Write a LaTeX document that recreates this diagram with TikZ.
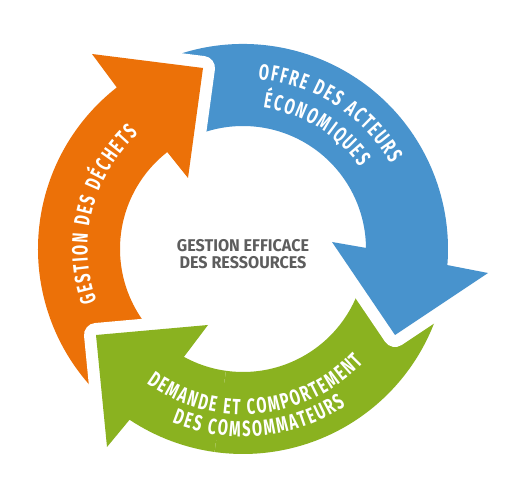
\documentclass[tikz,border=0pt]{standalone}
\usepackage{fontspec}
\usepackage{tikz}
\usetikzlibrary{decorations.text}
\newfontfamily\bandfamily{Fira Sans}[FakeStretch=0.67]
\newfontfamily\corefamily{Fira Sans}[FakeStretch=0.95]
\definecolor{orangeband}{HTML}{EC7108}
\definecolor{blueband}{HTML}{4893CD}
\definecolor{greenband}{HTML}{8AB220}
\definecolor{coregray}{HTML}{5D5D5D}
\newcommand{\bandfont}{\bandfamily\bfseries\fontsize{22bp}{22bp}\selectfont}
\newcommand{\greenarrow}{(-12:205) arc[start angle=-12,end angle=-123.6,radius=205] -- (-136,-198) -- (-147,-86) -- (-35,-76)
  -- (-118.7:123) arc[start angle=-118.7,end angle=-12,radius=123] -- cycle}
\tikzset{
  band/.style     ={preaction={draw=white,line width=24bp,line join=round}},
  bandlabel/.style={decorate,decoration={text effects along path,text={#1},text align=center,
    text effects/.cd,text along path,characters={text=white,font=\bandfont,inner xsep=0.9bp},
    character widths={font=\bandfont,inner xsep=0.9bp}}},
  core/.style     ={align=center,text=coregray,font=\corefamily\bfseries\fontsize{17bp}{17bp}\selectfont},
}
\begin{document}
\begin{tikzpicture}[x=1bp,y=1bp]
  \useasboundingbox (0,0) rectangle (512,486);
  \begin{scope}[shift={(243,237)}]
    \fill[greenband,band] \greenarrow;
    \fill[blueband,band] (115:205) arc[start angle=115,end angle=-4.5,radius=205] -- (245,-24) -- (152,-86) -- (89,7)
      -- (0.5:123) arc[start angle=0.5,end angle=115,radius=123] -- cycle;
    \fill[orangeband,band] (226:205) arc[start angle=226,end angle=128,radius=205] -- (-151,195) -- (-40,181) -- (-55,71)
      -- (128:123) arc[start angle=128,end angle=226,radius=123] -- cycle;
    \begin{scope}
      \clip (0,0) -- (190:320) -- (262:320) -- cycle;
      \fill[greenband,band] \greenarrow;
    \end{scope}
    \path[bandlabel={OFFRE DES ACTEURS}] (100:170.5) arc[start angle=100,end angle=15,radius=170.5];
    \path[bandlabel={ÉCONOMIQUES}] (105:142.5) arc[start angle=105,end angle=12,radius=142.5];
    \path[bandlabel={DEMANDE ET COMPORTEMENT}] (200:165.5) arc[start angle=200,end angle=351,radius=165.5];
    \path[bandlabel={DES COMSOMMATEURS}] (200:187.5) arc[start angle=200,end angle=351,radius=187.5];
    \path[bandlabel={GESTION DES DÉCHETS}] (242:155.5) arc[start angle=242,end angle=90,radius=155.5];
    \node[core] (resources) at (0,-5.5) {GESTION EFFICACE\\DES RESSOURCES};
  \end{scope}
\end{tikzpicture}
\end{document}
